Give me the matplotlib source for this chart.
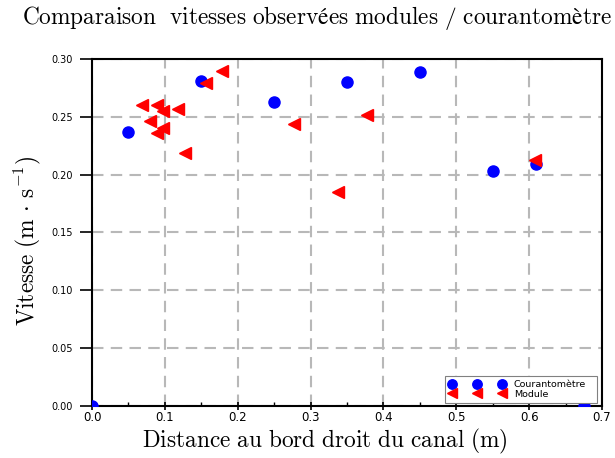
import matplotlib
matplotlib.use("Agg")
import matplotlib.pyplot as plt

plt.rcParams['mathtext.fontset'] = 'cm'

# Data
courant_x = [0.0, 0.05, 0.15, 0.25, 0.35, 0.45, 0.55, 0.61, 0.675]
courant_y = [0.0, 0.237, 0.281, 0.263, 0.280, 0.289, 0.203, 0.209, 0.0]

module_x = [0.068, 0.089, 0.098, 0.118, 0.079, 0.098, 0.089, 0.128, 0.157, 0.178,
            0.277, 0.337, 0.378, 0.608]
module_y = [0.260, 0.260, 0.255, 0.257, 0.246, 0.240, 0.236, 0.219, 0.279, 0.290,
            0.244, 0.185, 0.252, 0.213]

xticks = [0.0, 0.1, 0.2, 0.3, 0.4, 0.5, 0.6, 0.7]
xminor = [0.05, 0.15, 0.25, 0.35, 0.45, 0.55, 0.65]
yticks = [0.00, 0.05, 0.10, 0.15, 0.20, 0.25, 0.30]

title = r'$\mathrm{Comparaison\ \ vitesses\ observées\ modules\ /\ courantomètre}$'
xlabel = r'$\mathrm{Distance\ au\ bord\ droit\ du\ canal\ (m)}$'
ylabel = r'$\mathrm{Vitesse\ (m\,\cdot\,s^{-1})}$'

fig = plt.figure(figsize=(6.15, 4.58), dpi=100)
ax = fig.add_axes([92/615, 1-406/458, 510/615, 347/458])

ax.plot(courant_x, courant_y, linestyle='none', marker='o', color='blue',
        markersize=8, label='Courantomètre', zorder=3)
ax.plot(module_x, module_y, linestyle='none', marker='<', color='red',
        markersize=9, label='Module', zorder=3)

ax.set_xlim(0, 0.7)
ax.set_ylim(0, 0.30)
ax.set_xticks(xticks)
ax.set_yticks(yticks)
ax.set_xticklabels([f'{v:.1f}' for v in xticks], fontsize=8.5)
ax.set_yticklabels([f'{v:.2f}' for v in yticks], fontsize=7)
ax.set_xticks(xminor, minor=True)
ax.tick_params(axis='x', which='major', direction='inout', length=5.8, width=1.2, pad=1)
ax.tick_params(axis='x', which='minor', direction='in', length=3, width=1.0)
ax.tick_params(axis='y', which='major', direction='out', length=9, width=1.2, pad=5)

ax.grid(True, color='#b8b8b8', linestyle=(0, (5.5, 3.5)), linewidth=1.5)
ax.set_axisbelow(True)
for s in ax.spines.values():
    s.set_linewidth(1.5)

leg = ax.legend(loc='lower left', bbox_to_anchor=(353/510, 3/347, 152/510, 0.2),
                mode='expand', borderaxespad=0, numpoints=3, fontsize=6.8,
                frameon=True, fancybox=False, edgecolor='#808080', framealpha=1,
                borderpad=0.45, labelspacing=0.05, handlelength=5.9,
                handletextpad=0.95, markerscale=0.85)
leg.get_frame().set_linewidth(0.8)

fig.text(317/615, 1-18/458, title, ha='center', va='center', fontsize=16.8)
fig.text(325/615, 1-441/458, xlabel, ha='center', va='center', fontsize=16.8)
fig.text(27/615, 1-241/458, ylabel, ha='center', va='center', fontsize=16.8,
         rotation=90)

fig.savefig('out.png', dpi=100)
